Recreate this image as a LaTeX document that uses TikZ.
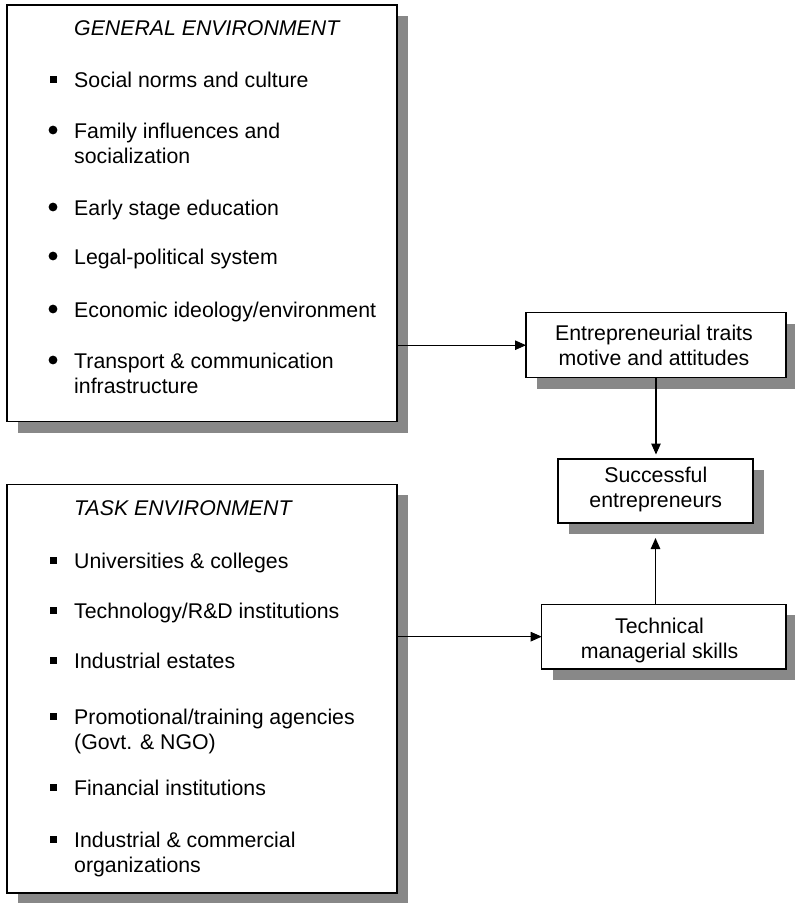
\documentclass[tikz,border=0pt]{standalone}
\usepackage{fontspec}
\setmainfont{Liberation Sans}
\usetikzlibrary{shadows,arrows.meta}
\definecolor{shade}{RGB}{136,136,136}
\begin{document}
\begin{tikzpicture}[x=1pt,y=-1pt,
  panel/.style={draw=black, line width=1.4pt, fill=white, inner sep=0pt, outer sep=0pt,
    general shadow={fill=shade, shadow xshift=11pt, shadow yshift=-11pt}},
  txt/.style={inner sep=0pt, font=\fontsize{21.3}{25}\selectfont},
  itemtext/.style={txt, anchor=base west, align=left},
  heading/.style={txt, anchor=base west, font=\fontsize{21.3}{25}\selectfont\itshape},
  boxtext/.style={txt, anchor=base, align=center},
  sqbullet/.style={fill=black, inner sep=0pt, minimum size=7pt, rectangle},
  dotbullet/.style={fill=black, inner sep=0pt, minimum size=8.8pt, circle},
  link/.style={line width=1.1pt, -{Triangle[length=11pt,width=9.5pt]}}
]
\useasboundingbox (0,0) rectangle (795,903);

% ---- general environment panel ----
% (multi-line nodes are placed by the baseline of their last line)
\node[panel, minimum width=390pt, minimum height=416.5pt] (gen) at (202,213.25) {};
\node[heading] (genhead) at (74,35) {GENERAL ENVIRONMENT};
\node[sqbullet]  (gb1) at (53.3,79) {};
\node[itemtext]  (gi1) at (74,87)  {Social norms and culture};
\node[dotbullet] (gb2) at (53,130) {};
\node[itemtext]  (gi2) at (74,163) {Family influences and\\socialization};
\node[dotbullet] (gb3) at (53,207) {};
\node[itemtext]  (gi3) at (74,215) {Early stage education};
\node[dotbullet] (gb4) at (53,256) {};
\node[itemtext]  (gi4) at (74,264) {Legal-political system};
\node[dotbullet] (gb5) at (53,309) {};
\node[itemtext]  (gi5) at (74,317) {Economic ideology/environment};
\node[dotbullet] (gb6) at (53,360) {};
\node[itemtext]  (gi6) at (74,393) {Transport \& communication\\infrastructure};

% ---- task environment panel ----
\node[panel, minimum width=390pt, minimum height=408.7pt] (task) at (202,688.65) {};
\node[heading] (taskhead) at (74,515) {TASK ENVIRONMENT};
\node[sqbullet] (tb1) at (53.3,560) {};
\node[itemtext] (ti1) at (74,568) {Universities \& colleges};
\node[sqbullet] (tb2) at (53.3,610) {};
\node[itemtext] (ti2) at (74,618) {Technology/R\&D institutions};
\node[sqbullet] (tb3) at (53.3,660) {};
\node[itemtext] (ti3) at (74,668) {Industrial estates};
\node[sqbullet] (tb4) at (53.3,716) {};
\node[itemtext] (ti4) at (74,749) {Promotional/training agencies\\(Govt. \& NGO)};
\node[sqbullet] (tb5) at (53.3,787) {};
\node[itemtext] (ti5) at (74,795) {Financial institutions};
\node[sqbullet] (tb6) at (53.3,839) {};
\node[itemtext] (ti6) at (74,872) {Industrial \& commercial\\organizations};

% ---- outcome boxes ----
\node[panel, minimum width=260pt, minimum height=65pt] (traits) at (656,345.2) {};
\node[boxtext] (traitstext) at (654,365) {Entrepreneurial traits\\motive and attitudes};
\node[panel, minimum width=195pt, minimum height=64pt] (success) at (655.5,491) {};
\node[boxtext] (successtext) at (655.8,507) {Successful\\entrepreneurs};
\node[panel, minimum width=244.3pt, minimum height=64.7pt] (skills) at (663.85,636.65) {};
\node[boxtext] (skillstext) at (659.5,658) {Technical\\managerial skills};

% ---- connectors ----
\draw[link] (gen.east |- traits.west) -- (traits.west);
\draw[link] (task.east |- skills.west) -- (skills.west);
\draw[link, shorten >=4.5pt] (traits.south) -- (traits.south |- success.north);
\draw[link, shorten >=15pt] (success.south |- skills.north) -- (success.south);
\end{tikzpicture}
\end{document}
